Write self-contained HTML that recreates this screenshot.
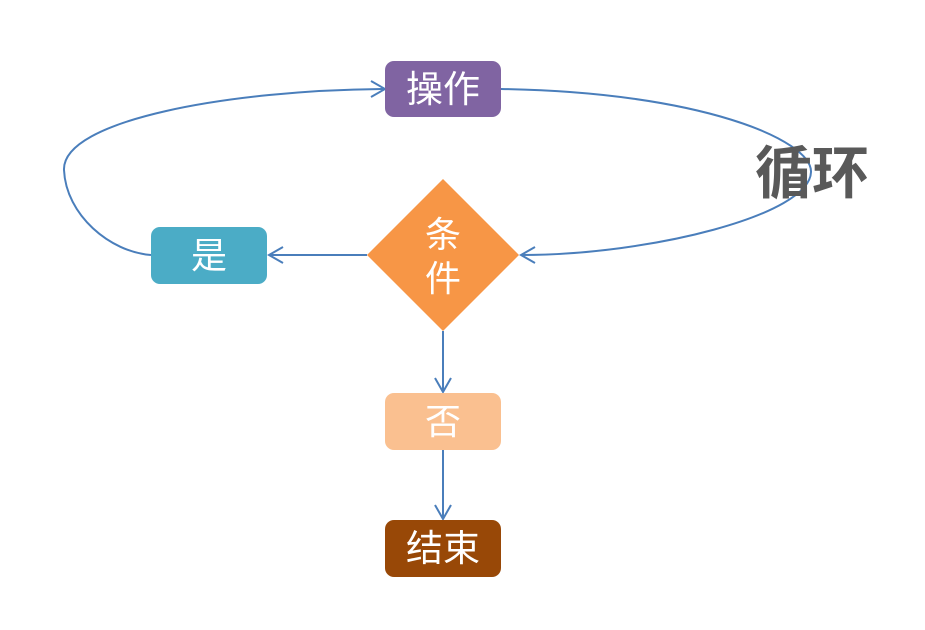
<!DOCTYPE html>
<html><head><meta charset="utf-8"><style>
html,body{margin:0;padding:0;background:#fff;}
body{width:925px;height:625px;overflow:hidden;}
text{font-family:"Liberation Sans","Noto Sans CJK SC",sans-serif;}
</style></head><body>
<svg width="925" height="625" viewBox="0 0 925 625" xmlns="http://www.w3.org/2000/svg">
<g fill="none" stroke="#4A7EBB" stroke-width="2">
  <path d="M151,255 C110,252 66,215 64,170 C62,120 230,90 385,89"/>
  <path d="M371,81 L385,89 L371,97" stroke-linejoin="miter"/>
  <path d="M501,89 C700,92 812,140 811,172 C810,215 650,255 521,255"/>
  <path d="M535,247 L521,255 L535,263"/>
  <path d="M367,255 L269,255"/>
  <path d="M283,247 L269,255 L283,263"/>
  <path d="M443,331 L443,392"/>
  <path d="M435,378 L443,392 L451,378"/>
  <path d="M443,450 L443,519"/>
  <path d="M435,505 L443,519 L451,505"/>
</g>
<rect x="385" y="61" width="116" height="56" rx="9" fill="#8064A2"/>
<text x="443" y="102" font-size="37" fill="#fff" text-anchor="middle">操作</text>
<rect x="151" y="227" width="116" height="57" rx="9" fill="#4BACC6"/>
<text x="209" y="268" font-size="36" fill="#fff" text-anchor="middle">是</text>
<polygon points="443,179 519,255 443,331 367,255" fill="#F79646"/>
<text x="443" y="247" font-size="36" fill="#fff" text-anchor="middle">条</text>
<text x="443" y="291" font-size="36" fill="#fff" text-anchor="middle">件</text>
<rect x="385" y="393" width="116" height="57" rx="9" fill="#FAC090"/>
<text x="443" y="434" font-size="36" fill="#fff" text-anchor="middle">否</text>
<rect x="385" y="520" width="116" height="57" rx="9" fill="#984807"/>
<text x="443" y="561" font-size="37" fill="#fff" text-anchor="middle">结束</text>
<text x="812" y="193" font-size="57" font-weight="bold" fill="#595959" text-anchor="middle">循环</text>
</svg>
</body></html>
